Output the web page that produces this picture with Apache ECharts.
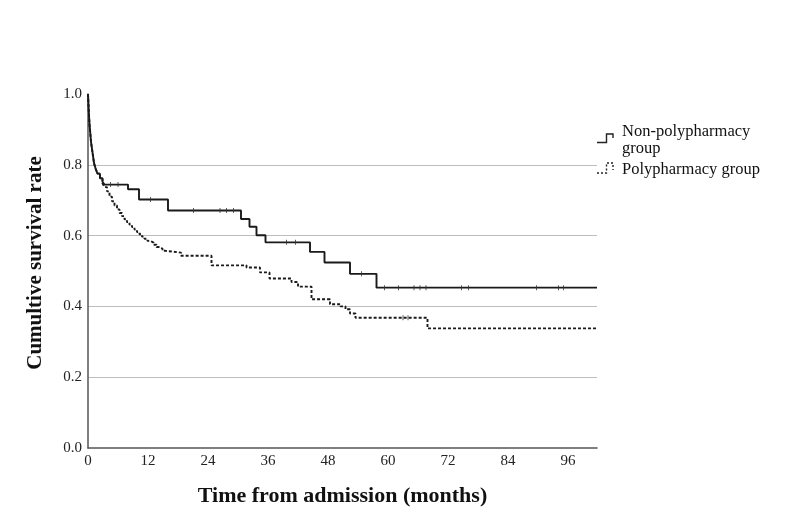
<!DOCTYPE html>
<html>
<head>
<meta charset="utf-8">
<script src="https://cdn.jsdelivr.net/npm/echarts@6/dist/echarts.min.js"></script>
<style>html,body{margin:0;padding:0;background:#fff}#c{width:794px;height:523px}</style>
</head>
<body>
<div id="c"></div>
<script>
// Kaplan-Meier step data (time in months, cumulative survival)
var nonPolyTime = [0, 0.1, 0.2, 0.3, 0.45, 0.6, 0.8, 1.0, 1.2, 1.5, 1.9, 2.4, 2.9, 3.3, 8.0, 10.2, 16.0, 30.6, 32.3, 33.7, 35.5, 44.4, 47.3, 52.4, 57.7, 101.8];
var nonPolySurv = [1.0, 0.97, 0.94, 0.915, 0.89, 0.865, 0.845, 0.825, 0.805, 0.79, 0.775, 0.762, 0.752, 0.744, 0.731, 0.702, 0.671, 0.647, 0.625, 0.601, 0.581, 0.554, 0.524, 0.492, 0.453, 0.453];

var polyTime = [0, 0.1, 0.2, 0.3, 0.45, 0.6, 0.8, 1.0, 1.2, 1.5, 1.9, 2.4, 2.9, 3.3, 3.8, 4.3, 4.8, 5.3, 5.8, 6.3, 6.8, 7.3, 7.8, 8.3, 8.8, 9.3, 9.8, 10.3, 10.8, 11.3, 11.9, 12.5, 13.1, 13.7, 14.3, 14.9, 15.5, 18.6, 24.7, 31.7, 34.4, 36.3, 40.7, 42.0, 44.7, 48.4, 50.5, 51.5, 52.4, 53.5, 67.9, 101.8];
var polySurv = [1.0, 0.97, 0.94, 0.915, 0.89, 0.865, 0.845, 0.825, 0.805, 0.79, 0.775, 0.76, 0.748, 0.737, 0.725, 0.71, 0.697, 0.685, 0.674, 0.664, 0.655, 0.646, 0.638, 0.631, 0.624, 0.617, 0.61, 0.604, 0.597, 0.591, 0.585, 0.58, 0.574, 0.568, 0.563, 0.557, 0.552, 0.543, 0.516, 0.51, 0.496, 0.479, 0.469, 0.456, 0.42, 0.406, 0.40, 0.392, 0.38, 0.368, 0.338, 0.338];

// censored observations (tick marks)
var nonPolyCensorTime = [4.5, 6.0, 12.5, 21.1, 26.4, 27.7, 29.1, 39.7, 41.5, 54.7, 59.3, 62.1, 65.2, 66.4, 67.6, 74.7, 76.1, 89.7, 94.1, 95.1];
var nonPolyCensorSurv = [0.744, 0.744, 0.702, 0.671, 0.671, 0.671, 0.671, 0.581, 0.581, 0.492, 0.453, 0.453, 0.453, 0.453, 0.453, 0.453, 0.453, 0.453, 0.453, 0.453];
var polyCensorTime = [63.0, 64.0];
var polyCensorSurv = [0.368, 0.368];

var xTicks = [0, 12, 24, 36, 48, 60, 72, 84, 96];
var yTicks = [0.0, 0.2, 0.4, 0.6, 0.8, 1.0];

var legendNames = ['Non-polypharmacy\ngroup', 'Polypharmacy group'];
var xTitle = 'Time from admission (months)';
var yTitle = 'Cumultive survival rate';

function zip(a, b) { return a.map(function (v, i) { return [v, b[i]]; }); }

var FONT = '"Liberation Serif", "Times New Roman", serif';
var chart = echarts.init(document.getElementById('c'), null, { renderer: 'canvas' });

var gridLeft = 88, gridRight = 197, gridTop = 94, gridBottom = 75;

chart.setOption({
  animation: false,
  backgroundColor: '#fff',
  grid: { left: gridLeft, right: gridRight, top: gridTop, bottom: gridBottom, containLabel: false },
  xAxis: {
    type: 'value', min: 0, max: 101.8, interval: 12,
    axisLine: { show: true, lineStyle: { color: '#555', width: 1.5 } },
    axisTick: { show: false },
    splitLine: { show: false },
    axisLabel: {
      margin: 6, color: '#222', fontFamily: FONT, fontSize: 15,
      formatter: function (v) { return xTicks.indexOf(v) >= 0 ? String(v) : ''; }
    },
    name: xTitle, nameLocation: 'middle', nameGap: 37,
    nameTextStyle: { fontFamily: FONT, fontSize: 22, fontWeight: 'bold', color: '#111' }
  },
  yAxis: {
    type: 'value', min: 0, max: 1, interval: 0.2,
    axisLine: { show: true, lineStyle: { color: '#555', width: 1.5 } },
    axisTick: { show: false },
    splitLine: { show: true, lineStyle: { color: ['rgba(0,0,0,0)', '#bdbdbd', '#bdbdbd', '#bdbdbd', '#bdbdbd', 'rgba(0,0,0,0)'], width: 1 } },
    axisLabel: {
      margin: 6, color: '#222', fontFamily: FONT, fontSize: 15,
      formatter: function (v) { return v.toFixed(1); }
    }
  },
  graphic: [
    {
      type: 'text', x: 36, y: 263, rotation: Math.PI / 2,
      style: { text: yTitle, font: 'bold 21px ' + FONT, fill: '#111', align: 'center', verticalAlign: 'middle' }
    },
    {
      type: 'polyline',
      shape: { points: [[597, 142.5], [606.5, 142.5], [606.5, 134], [613, 134], [613, 138]] },
      style: { stroke: '#222', lineWidth: 1.4, fill: null }
    },
    {
      type: 'text', x: 622, y: 122.5,
      style: { text: legendNames[0], font: '16.5px ' + FONT, fill: '#111', lineHeight: 17.5 }
    },
    {
      type: 'polyline',
      shape: { points: [[597, 173], [606.5, 173], [606.5, 163], [613, 163], [613, 170]] },
      style: { stroke: '#222', lineWidth: 1.4, fill: null, lineDash: [2, 2] }
    },
    {
      type: 'text', x: 622, y: 161,
      style: { text: legendNames[1], font: '16.5px ' + FONT, fill: '#111' }
    }
  ],
  series: [
    {
      name: legendNames[0], type: 'line', step: 'end', data: zip(nonPolyTime, nonPolySurv),
      showSymbol: false, symbol: 'none',
      lineStyle: { color: '#1a1a1a', width: 1.9 }, z: 3
    },
    {
      name: legendNames[1], type: 'line', step: 'end', data: zip(polyTime, polySurv),
      showSymbol: false, symbol: 'none',
      lineStyle: { color: '#1a1a1a', width: 1.9, type: [3, 2] }, z: 3
    },
    {
      type: 'scatter', data: zip(nonPolyCensorTime, nonPolyCensorSurv),
      symbol: 'rect', symbolSize: [1, 5], itemStyle: { color: '#333' }, z: 4
    },
    {
      type: 'scatter', data: zip(polyCensorTime, polyCensorSurv),
      symbol: 'rect', symbolSize: [1, 5], itemStyle: { color: '#333' }, z: 4
    }
  ]
});
</script>
</body>
</html>
